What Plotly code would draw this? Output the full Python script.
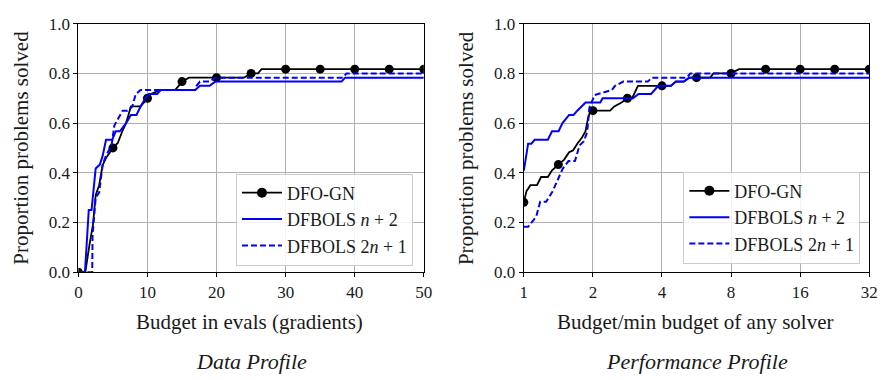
import plotly.graph_objects as go

# ---------------- Data profile (left) ----------------
dp_dfogn_x = [0, 1, 1.6, 2.1, 2.5, 3, 3.5, 4, 5, 5.7, 6.4, 6.9, 7.6, 8.1, 9, 9.5, 10, 10.5, 11.8, 14, 15, 16,
              20, 24, 25, 26, 26.5, 30, 35, 40, 45, 50]
dp_dfogn_y = [0, 0, 0.11, 0.19, 0.31, 0.35, 0.43, 0.46, 0.5, 0.52, 0.57, 0.6, 0.667, 0.667, 0.667, 0.683, 0.7,
              0.717, 0.733, 0.733, 0.767, 0.783, 0.783, 0.783, 0.8, 0.8, 0.817, 0.817, 0.817, 0.817, 0.817, 0.817]
dp_n2_x = [0, 0.95, 1.5, 1.9, 2.5, 3.1, 3.5, 4, 4.9, 5.4, 6, 6.9, 7.6, 8.4, 9, 9.7, 10.2, 11.4, 11.9, 16.9,
           17.6, 19, 19.8, 38.1, 38.6, 50]
dp_n2_y = [0, 0, 0.25, 0.25, 0.417, 0.433, 0.467, 0.533, 0.533, 0.567, 0.567, 0.6, 0.633, 0.633, 0.667, 0.7,
           0.717, 0.717, 0.733, 0.733, 0.75, 0.75, 0.767, 0.767, 0.783, 0.783]
dp_2n1_x = [0, 2.0, 2.05, 2.5, 3, 3.5, 4, 4.8, 5.2, 6.4, 7.1, 7.8, 8.3, 9, 11.6, 16.9, 17.1, 17.6, 19, 19.8,
            38.3, 38.8, 50]
dp_2n1_y = [0, 0, 0.15, 0.3, 0.32, 0.43, 0.47, 0.51, 0.59, 0.65, 0.65, 0.667, 0.717, 0.733, 0.733, 0.733,
            0.75, 0.767, 0.767, 0.783, 0.783, 0.8, 0.8]
dp_marker_x = [0, 5, 10, 15, 20, 25, 30, 35, 40, 45, 50]

# ---------------- Performance profile (right) ----------------
pp_dfogn_x = [1, 1.027, 1.068, 1.141, 1.189, 1.272, 1.327, 1.414, 1.499, 1.575, 1.638, 1.710, 1.796, 1.857,
              1.905, 1.951, 2, 2.377, 2.479, 2.667, 2.828, 2.963, 3.143, 3.585, 4, 4.377, 4.595, 4.983, 5.278,
              5.657, 6.485, 6.704, 8, 8.664, 11.314, 16, 22.627, 32]
pp_dfogn_y = [0.281, 0.326, 0.35, 0.35, 0.383, 0.383, 0.41, 0.433, 0.453, 0.483, 0.49, 0.517, 0.543, 0.567,
              0.62, 0.65, 0.65, 0.65, 0.667, 0.683, 0.7, 0.7, 0.75, 0.75, 0.75, 0.75, 0.767, 0.767, 0.783,
              0.783, 0.783, 0.8, 0.8, 0.817, 0.817, 0.817, 0.817, 0.817]
pp_n2_x = [1, 1.044, 1.078, 1.115, 1.272, 1.327, 1.417, 1.474, 1.575, 1.647, 1.710, 1.857, 2.153, 2.204,
           2.990, 3.160, 3.585, 3.855, 4.377, 4.595, 4.983, 5.242, 32]
pp_n2_y = [0.409, 0.517, 0.517, 0.533, 0.533, 0.567, 0.567, 0.6, 0.633, 0.633, 0.65, 0.683, 0.683, 0.7,
           0.7, 0.717, 0.717, 0.75, 0.75, 0.767, 0.767, 0.783, 0.783]
pp_2n1_x = [1, 1.044, 1.133, 1.178, 1.251, 1.336, 1.403, 1.474, 1.565, 1.670, 1.749, 1.826, 1.887, 1.932,
            2.036, 2.173, 2.417, 2.497, 2.713, 3.470, 3.610, 5.134, 5.315, 32]
pp_2n1_y = [0.183, 0.183, 0.224, 0.283, 0.283, 0.326, 0.37, 0.415, 0.447, 0.447, 0.51, 0.527, 0.563, 0.663,
            0.713, 0.72, 0.733, 0.75, 0.767, 0.767, 0.783, 0.783, 0.8, 0.8]
pp_marker_x = [1, 1.414, 2, 2.828, 4, 5.657, 8, 11.314, 16, 22.627, 32]

names = ["DFO-GN", "DFBOLS <i>n</i> + 2", "DFBOLS 2<i>n</i> + 1"]
x_ticks_left = [0, 10, 20, 30, 40, 50]
x_ticks_right = [1, 2, 4, 8, 16, 32]
y_ticks = [0.0, 0.2, 0.4, 0.6, 0.8, 1.0]

FONT = "'Liberation Serif', 'Times New Roman', 'DejaVu Serif', serif"
W, H = 894, 380
BLUE = "#0000ff"
TXT = "#1a1a1a"

def px_x(p):
    return p / W

def px_y(p):
    return 1 - p / H

fig = go.Figure()

def add_panel(xa, ya, legend, dx, dy, nx, ny, ex, ey, mx):
    sizes = [9 if any(abs(v - m) < 1e-6 for m in mx) else 0 for v in dx]
    fig.add_trace(go.Scatter(x=dx, y=dy, mode="lines+markers", xaxis=xa, yaxis=ya,
                             line=dict(color="black", width=1.8),
                             marker=dict(color="black", size=sizes, opacity=1, line=dict(width=0)),
                             showlegend=False, hoverinfo="skip"))
    fig.add_trace(go.Scatter(x=[None], y=[None], mode="lines+markers", xaxis=xa, yaxis=ya,
                             name=names[0], legend=legend,
                             line=dict(color="black", width=1.8),
                             marker=dict(color="black", size=10, opacity=1, line=dict(width=0))))
    fig.add_trace(go.Scatter(x=nx, y=ny, mode="lines", xaxis=xa, yaxis=ya, name=names[1], legend=legend,
                             line=dict(color=BLUE, width=2)))
    fig.add_trace(go.Scatter(x=ex, y=ey, mode="lines", xaxis=xa, yaxis=ya, name=names[2], legend=legend,
                             line=dict(color=BLUE, width=2, dash="6px,3px")))

add_panel("x", "y", "legend", dp_dfogn_x, dp_dfogn_y, dp_n2_x, dp_n2_y, dp_2n1_x, dp_2n1_y, dp_marker_x)
add_panel("x2", "y2", "legend2", pp_dfogn_x, pp_dfogn_y, pp_n2_x, pp_n2_y, pp_2n1_x, pp_2n1_y, pp_marker_x)

L0, L1 = 75.5, 426
R0, R1 = 527.5, 878
T, B = 15.5, 277

axis_common = dict(showline=True, linecolor="black", linewidth=1.2, mirror=True,
                   ticks="outside", ticklen=4, tickcolor="black", tickwidth=1,
                   showgrid=True, gridcolor="#b0b0b0", gridwidth=0.8, zeroline=False,
                   tickfont=dict(family=FONT, size=17, color=TXT))

legend_common = dict(bgcolor="rgba(255,255,255,0.85)", bordercolor="#cccccc", borderwidth=1,
                     font=dict(family=FONT, size=18, color=TXT), xanchor="right", yanchor="bottom",
                     tracegroupgap=0, itemwidth=40)

fig.update_layout(
    width=W, height=H, margin=dict(l=0, r=0, t=0, b=0),
    paper_bgcolor="white", plot_bgcolor="white",
    font=dict(family=FONT, color=TXT),
    xaxis=dict(domain=[px_x(L0), px_x(L1)], range=[0, 50], tickvals=x_ticks_left,
               ticktext=[str(v) for v in x_ticks_left], anchor="y", **axis_common),
    yaxis=dict(domain=[px_y(B), px_y(T)], range=[0, 1], tickvals=y_ticks,
               ticktext=[f"{v:.1f}" for v in y_ticks], anchor="x", **axis_common),
    xaxis2=dict(domain=[px_x(R0), px_x(R1)], type="log", range=[0, 1.50515], tickvals=x_ticks_right,
                ticktext=[str(v) for v in x_ticks_right], anchor="y2", **axis_common),
    yaxis2=dict(domain=[px_y(B), px_y(T)], range=[0, 1], tickvals=y_ticks,
                ticktext=[f"{v:.1f}" for v in y_ticks], anchor="x2", **axis_common),
    legend=dict(x=px_x(415), y=px_y(270), **legend_common),
    legend2=dict(x=px_x(869), y=px_y(268), **legend_common),
)

def ann(text, x, y, size, italic=False, angle=0):
    fig.add_annotation(text=f"<i>{text}</i>" if italic else text, x=px_x(x), y=px_y(y),
                       xref="paper", yref="paper", showarrow=False, textangle=angle,
                       font=dict(family=FONT, size=size, color=TXT),
                       xanchor="center", yanchor="middle")

ann("Budget in evals (gradients)", (L0 + L1) / 2 - 2, 329, 21)
ann("Budget/min budget of any solver", (R0 + R1) / 2 - 2, 329, 21)
ann("Data Profile", (L0 + L1) / 2, 371, 22, italic=True)
ann("Performance Profile", (R0 + R1) / 2, 371, 22, italic=True)
ann("Proportion problems solved", 17, (T + B) / 2, 21, angle=-90)
ann("Proportion problems solved", 469, (T + B) / 2, 21, angle=-90)

fig.write_html("out.html")
